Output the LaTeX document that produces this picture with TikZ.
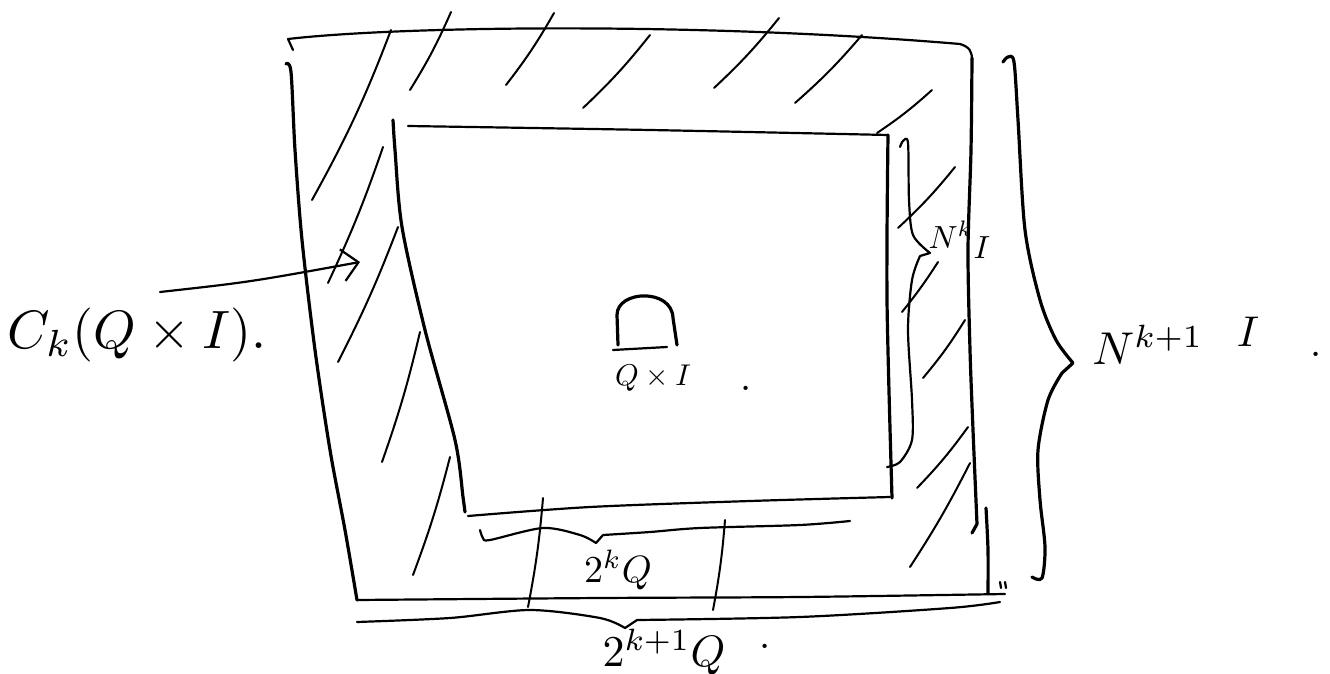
\documentclass[tikz,border=0pt]{standalone}
\usetikzlibrary{arrows.meta}
\begin{document}
\begin{tikzpicture}[x=1pt,y=-1pt,
  heavy/.style={line width=3.2pt,line cap=round,line join=round},
  edge/.style={line width=2.2pt,line cap=round,line join=round},
  hatch/.style={line width=2pt,line cap=round},
  lbl/.style={inner sep=0pt}]
\useasboundingbox (0,0) rectangle (1330,674);

% ---------- outer box ----------
\draw[edge] (293,50) -- (288,39) .. controls (400,26) and (700,22) .. (960,44) .. controls (970,47) and (972,52) .. (972,60);
\draw[heavy] plot[smooth] coordinates {(972,58) (971,150) (968,250) (970,350) (973,430) (977,524)} -- (972,533);
\draw[heavy] plot[smooth] coordinates {(286,64) (291,72) (295,150) (302,240) (315,350) (330,450) (345,530) (357,600)};
\draw[edge] plot[smooth] coordinates {(357,600) (600,598) (800,597) (1005,594)};
\draw[heavy] plot[smooth] coordinates {(986,508) (988,550) (988,593)};
\draw[edge] (1000,582) -- (1001,588) (1005,582) -- (1006,588);

% ---------- inner box ----------
\draw[heavy] plot[smooth] coordinates {(393,120) (395,150) (402,227) (425,330) (455,440) (463,497) (465,512)};
\draw[edge] plot[smooth] coordinates {(468,516) (590,507) (750,501) (890,497)};
\draw[edge] plot[smooth] coordinates {(408,126) (650,130) (888,135)};
\draw[heavy] plot[smooth] coordinates {(888,135) (887,300) (892,498)};

% ---------- hatching ----------
\draw[hatch] (391,30) to[bend left=4] (312,200);
\draw[hatch] (451,12) to[bend left=4] (410,90);
\draw[hatch] (554,13) to[bend left=4] (506,85);
\draw[hatch] (650,35) to[bend left=4] (583,108);
\draw[hatch] (779,18) to[bend left=4] (714,88);
\draw[hatch] (862,35) to[bend left=4] (795,103);
\draw[hatch] (932,90) to[bend left=4] (877,133);
\draw[hatch] (383,147) to[bend left=3] (328,283);
\draw[hatch] (398,227) to[bend left=3] (338,362);
\draw[hatch] (420,332) to[bend left=3] (382,462);
\draw[hatch] (450,457) to[bend left=3] (413,575);
\draw[hatch] (543,498) to[bend left=3] (528,607);
\draw[hatch] (725,520) to[bend left=3] (713,610);
\draw[hatch] (955,167) to[bend left=4] (898,228);
\draw[hatch] (938,262) to[bend left=3] (902,312);
\draw[hatch] (965,320) to[bend left=4] (923,378);
\draw[hatch] (968,427) to[bend left=4] (917,488);
\draw[hatch] (970,463) to[bend left=3] (910,567);

% ---------- braces ----------
\draw[edge] plot[smooth] coordinates {(900,147) (903,141) (908,143) (909,200) (913,235) (930,253)}
  -- (920,256) plot[smooth] coordinates {(920,256) (912,280) (908,330) (912,400) (912,440) (900,462) (887,467)};
\draw[heavy] plot[smooth] coordinates {(1003,62) (1008,57) (1014,62) (1018,120) (1025,230) (1040,300) (1056,340) (1073,363)}
  -- (1062,373) plot[smooth] coordinates {(1062,373) (1048,400) (1038,450) (1040,500) (1045,547) (1042,578) (1032,577)};
\draw[edge] plot[smooth] coordinates {(480,530) (483,538) (490,540) (543,528) (580,535) (596,543)}
  -- (603,535) plot[smooth] coordinates {(603,535) (650,532) (700,528) (800,525) (850,521)};
\draw[edge] plot[smooth] coordinates {(357,622) (450,618) (530,610) (600,618) (625,628)}
  -- (637,620) plot[smooth] coordinates {(637,620) (800,617) (950,608) (1000,602)};

% ---------- centre symbol ----------
\draw[heavy] (618,345) -- (617,315) .. controls (617,290) and (672,288) .. (673,318) -- (677,345);
\draw[edge] (613,350) -- (667,347);

% ---------- labels ----------
\node[lbl,scale=5.4] (ck) at (137,335) {$C_k(Q\times I)$.};
\node[lbl,scale=3] (qxi) at (653,378) {$Q\times I$};
\node[lbl,scale=4] (dotc) at (746,388) {.};
\node[lbl,scale=3.2] (nk) at (951,235) {$N^{k}$};
\node[lbl,scale=3.2] (ik) at (982,248) {$I$};
\node[lbl,scale=4.6] (nk1) at (1148,345) {$N^{k+1}$};
\node[lbl,scale=4.3] (ik1) at (1248,332) {$I$};
\node[lbl,scale=4] (dotr) at (1316,354) {.};
\node[lbl,scale=3.8] (tkq) at (618,570) {$2^{k}Q$};
\node[lbl,scale=4.4] (tk1q) at (664,652) {$2^{k+1}Q$};
\node[lbl,scale=4] (dotb) at (765,646) {.};

% ---------- arrow ----------
\coordinate (arrS) at (160,292);
\coordinate (arrT) at (360,262);
\draw[edge,-{Straight Barb[length=16pt,width=32pt]}] (arrS) .. controls (250,282) .. (arrT);
\end{tikzpicture}
\end{document}
